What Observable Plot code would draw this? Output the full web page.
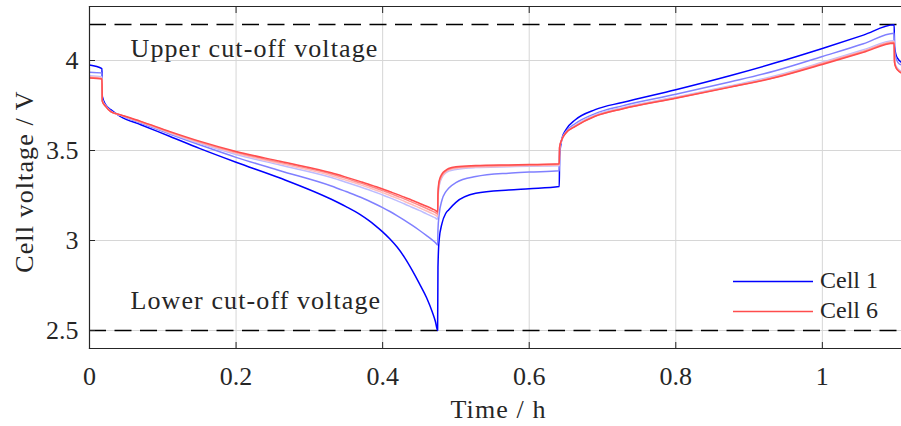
<!DOCTYPE html>
<html>
<head>
<meta charset="utf-8">
<script src="https://cdn.jsdelivr.net/npm/d3@7"></script>
<script src="https://cdn.jsdelivr.net/npm/@observablehq/plot@0.6"></script>
<style>
  html, body { margin: 0; padding: 0; background: #fff; }
  #chart { width: 901px; height: 426px; }
</style>
</head>
<body>
<div id="chart"></div>
<script>
// ---- data ----
const cells = ["Cell 1", "Cell 2", "Cell 3", "Cell 4", "Cell 5", "Cell 6"];
const cellColors = ["#0000ff", "#8080ff", "#bcbcff", "#ffbcbc", "#ff8a8a", "#ff4d4d"];
const legendCells = ["Cell 1", "Cell 6"];

const time = [0, 0.017, 0.0175, 0.022, 0.029, 0.042, 0.07, 0.11, 0.15, 0.2,
  0.26, 0.33, 0.35, 0.37, 0.38, 0.39, 0.40, 0.41, 0.42, 0.43,
  0.44, 0.45, 0.46, 0.468, 0.472, 0.475,
  0.4755, 0.477, 0.481, 0.486, 0.49, 0.5, 0.527, 0.572, 0.6, 0.641,
  0.6415, 0.645, 0.65, 0.663, 0.69, 0.727, 0.8, 0.875, 0.936, 1.0, 1.056, 1.098,
  1.0985, 1.1, 1.103, 1.108];

const cell1 = [3.975, 3.955, 3.80, 3.755, 3.727, 3.69, 3.643, 3.578, 3.512, 3.435,
  3.347, 3.229, 3.188, 3.142, 3.114, 3.083, 3.048, 3.008, 2.962, 2.905,
  2.837, 2.762, 2.682, 2.60, 2.55, 2.5,
  2.85, 3.0, 3.095, 3.15, 3.17, 3.212, 3.262, 3.281, 3.288, 3.30,
  3.47, 3.57, 3.615, 3.671, 3.727, 3.767, 3.838, 3.917, 3.987, 4.067, 4.141, 4.198,
  4.08, 4.04, 4.01, 3.99];

const cell2 = [3.935, 3.93, 3.785, 3.75, 3.72, 3.695, 3.652, 3.59, 3.532, 3.462,
  3.388, 3.303, 3.272, 3.24, 3.222, 3.203, 3.183, 3.161, 3.137, 3.112,
  3.085, 3.057, 3.027, 3.002, 2.988, 2.975,
  3.06, 3.14, 3.225, 3.27, 3.29, 3.322, 3.355, 3.374, 3.38, 3.387,
  3.50, 3.57, 3.605, 3.65, 3.705, 3.748, 3.812, 3.882, 3.943, 4.022, 4.093, 4.152,
  4.05, 4.02, 3.99, 3.975];

const cell3 = [3.915, 3.91, 3.778, 3.747, 3.717, 3.697, 3.656, 3.596, 3.54, 3.478,
  3.419, 3.35, 3.324, 3.297, 3.283, 3.268, 3.253, 3.237, 3.22, 3.203,
  3.185, 3.167, 3.148, 3.133, 3.125, 3.118,
  3.22, 3.30, 3.35, 3.375, 3.385, 3.395, 3.405, 3.41, 3.413, 3.415,
  3.515, 3.565, 3.6, 3.64, 3.697, 3.738, 3.797, 3.86, 3.915, 3.99, 4.06, 4.11,
  4.0, 3.975, 3.955, 3.94];

const cell4 = [3.91, 3.903, 3.776, 3.746, 3.716, 3.697, 3.658, 3.599, 3.544, 3.484,
  3.427, 3.36, 3.335, 3.309, 3.295, 3.281, 3.266, 3.25, 3.234, 3.217,
  3.2, 3.182, 3.164, 3.149, 3.141, 3.133,
  3.235, 3.31, 3.356, 3.38, 3.39, 3.4, 3.408, 3.413, 3.416, 3.419,
  3.517, 3.564, 3.598, 3.637, 3.693, 3.734, 3.794, 3.856, 3.91, 3.986, 4.053, 4.104,
  3.995, 3.97, 3.95, 3.935];

const cell5 = [3.906, 3.899, 3.774, 3.745, 3.716, 3.698, 3.66, 3.602, 3.548, 3.49,
  3.434, 3.369, 3.345, 3.319, 3.306, 3.292, 3.277, 3.262, 3.246, 3.23,
  3.213, 3.196, 3.178, 3.163, 3.155, 3.146,
  3.248, 3.32, 3.363, 3.385, 3.395, 3.405, 3.412, 3.417, 3.419, 3.423,
  3.519, 3.565, 3.597, 3.635, 3.691, 3.732, 3.792, 3.854, 3.907, 3.982, 4.049, 4.1,
  3.992, 3.967, 3.947, 3.932];

const cell6 = [3.903, 3.897, 3.773, 3.745, 3.716, 3.699, 3.662, 3.605, 3.552, 3.495,
  3.44, 3.376, 3.352, 3.327, 3.314, 3.30, 3.286, 3.271, 3.256, 3.24,
  3.224, 3.207, 3.19, 3.175, 3.167, 3.158,
  3.26, 3.33, 3.37, 3.39, 3.40, 3.41, 3.416, 3.42, 3.422, 3.426,
  3.52, 3.565, 3.597, 3.634, 3.69, 3.731, 3.79, 3.852, 3.905, 3.978, 4.045, 4.096,
  3.99, 3.965, 3.945, 3.93];

const cutoffValues = [4.2, 2.5];
const cutoffLabels = ["Upper cut-off voltage", "Lower cut-off voltage"];
const xTicks = [0, 0.2, 0.4, 0.6, 0.8, 1];
const yTicks = [2.5, 3, 3.5, 4];
const xLabel = "Time / h";
const yLabel = "Cell voltage / V";

// ---- build table ----
const series = [cell1, cell2, cell3, cell4, cell5, cell6];
const rows = [];
series.forEach((vals, i) => {
  vals.forEach((v, j) => rows.push({cell: cells[i], t: time[j], v}));
});

const ink = "#262626";
const font = "Liberation Serif, Times New Roman, serif";

const plot = Plot.plot({
  width: 901,
  height: 426,
  marginLeft: 89,
  marginRight: 0,
  marginTop: 6,
  marginBottom: 78,
  style: {fontFamily: font, fontSize: "26px", color: ink, background: "#fff"},
  x: {domain: [0, 1.108]},
  y: {domain: [2.4, 4.3]},
  color: {domain: cells, range: cellColors},
  marks: [
    Plot.gridX(xTicks.filter(d => d > 0), {stroke: "#d6d6d6", strokeOpacity: 1, strokeWidth: 1}),
    Plot.gridY(yTicks, {stroke: "#d6d6d6", strokeOpacity: 1, strokeWidth: 1}),
    Plot.ruleY(cutoffValues, {stroke: "#000", strokeWidth: 1.6, strokeDasharray: "17,8.5"}),
    Plot.line(rows, {x: "t", y: "v", z: "cell", stroke: "cell", strokeWidth: 1.5, curve: "monotone-x", clip: true}),
    Plot.frame({anchor: "top", stroke: ink, strokeWidth: 1.2}),
    Plot.frame({anchor: "bottom", stroke: ink, strokeWidth: 1.2}),
    Plot.frame({anchor: "left", stroke: ink, strokeWidth: 1.2}),
    Plot.axisX(xTicks, {anchor: "bottom", tickSize: 6, dy: -6, tickFormat: () => "", label: null, stroke: ink}),
    Plot.axisX(xTicks, {anchor: "top", tickSize: 6, dy: 6, tickFormat: () => "", label: null, stroke: ink}),
    Plot.axisX(xTicks, {anchor: "bottom", tickSize: 0, tickPadding: 18, tickFormat: d => String(d), label: null, fill: ink, fontSize: 26}),
    Plot.axisY(yTicks, {anchor: "left", tickSize: 6, dx: 6, tickFormat: () => "", label: null, stroke: ink}),
    Plot.axisY(yTicks, {anchor: "left", tickSize: 0, tickPadding: 11, tickFormat: d => String(d), label: null, fill: ink, fontSize: 26}),
    Plot.text([cutoffLabels[0]], {y: [cutoffValues[0]], frameAnchor: "left", textAnchor: "start", lineAnchor: "bottom", dx: 41, dy: 32, fill: ink, fontSize: 26}),
    Plot.text([cutoffLabels[1]], {y: [cutoffValues[1]], frameAnchor: "left", textAnchor: "start", lineAnchor: "bottom", dx: 41, dy: -22, fill: ink, fontSize: 26}),
    Plot.text([xLabel], {frameAnchor: "bottom", lineAnchor: "bottom", dx: 3, dy: 69, fill: ink, fontSize: 26}),
    Plot.text([yLabel], {frameAnchor: "left", rotate: -90, textAnchor: "middle", lineAnchor: "bottom", dx: -57, dy: 4, fill: ink, fontSize: 26})
  ]
});

document.getElementById("chart").appendChild(plot);

// letter spacing to mimic the wider LaTeX serif
d3.select(plot).selectAll("text").filter(function() {
  const t = this.textContent;
  return cutoffLabels.includes(t) || t === xLabel || t === yLabel;
}).attr("letter-spacing", "1.1px");

// legend (inside the plot, lower right)
const lg = d3.select(plot).append("g")
  .attr("font-family", font).attr("font-size", 24).attr("text-anchor", "start");
legendCells.forEach((name, i) => {
  const c = cellColors[cells.indexOf(name)];
  const yy = 281.5 + i * 30;
  lg.append("line").attr("x1", 733).attr("x2", 813).attr("y1", yy).attr("y2", yy)
    .attr("stroke", c).attr("stroke-width", 1.5);
  lg.append("text").attr("x", 820).attr("y", yy + 6).attr("fill", ink)
    .attr("text-anchor", "start").text(name);
});
</script>
</body>
</html>
